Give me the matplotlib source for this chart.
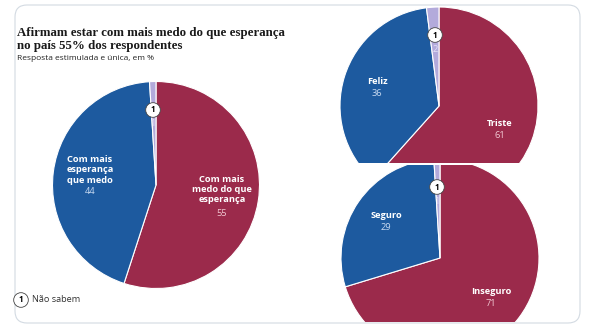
import matplotlib.pyplot as plt
from matplotlib.patches import FancyBboxPatch

# pesquisa: medo x esperança, humor e segurança (%)
medo_labels = ["Com mais\nmedo do que\nesperança", "Com mais\nesperança\nque medo", "Não sabem"]
medo_vals = [55, 44, 1]
humor_labels = ["Triste", "Feliz", "Não sabem"]
humor_vals = [61, 36, 2]
seg_labels = ["Inseguro", "Seguro", "Não sabem"]
seg_vals = [71, 29, 1]

RED = "#9b2a4b"
BLUE = "#1d5a9f"
LAV = "#b3aadb"
LIGHT_RED = "#f2c9d3"
LIGHT_BLUE = "#c9dbf2"
LIGHT_LAV = "#e4e0f4"

W, H = 594, 331
fig = plt.figure(figsize=(W / 100, H / 100), dpi=100)
fig.patch.set_facecolor("white")


def pie_ax(box, center, r, vals):
    # box em pixels (x0, y0, x1, y1), y de cima para baixo
    x0, y0, x1, y1 = box
    ax = fig.add_axes([x0 / W, 1 - y1 / H, (x1 - x0) / W, (y1 - y0) / H])
    wedges, _ = ax.pie(vals, colors=[RED, BLUE, LAV], startangle=90, counterclock=False,
                       wedgeprops=dict(linewidth=0.8, edgecolor="white"))
    for w in wedges:
        w.set_clip_on(True)
        w.set_clip_path(ax.patch)
    cx, cy = center
    ax.set_xlim((x0 - cx) / r, (x1 - cx) / r)
    ax.set_ylim((cy - y1) / r, (cy - y0) / r)
    ax.set_aspect("auto")
    ax.axis("off")
    return ax


pie_ax((16, 70, 300, 295), (156, 185), 103.5, medo_vals)
pie_ax((330, 0, 580, 163), (439, 106), 99, humor_vals)
pie_ax((330, 165, 580, 322), (440, 258), 99, seg_vals)

# camada de textos em coordenadas de pixel
ov = fig.add_axes([0, 0, 1, 1])
ov.set_xlim(0, W)
ov.set_ylim(H, 0)
ov.axis("off")
ov.patch.set_alpha(0)

ov.add_patch(FancyBboxPatch((15, 5), 565, 318, boxstyle="round,pad=0,rounding_size=12",
                            facecolor="none", edgecolor="#d3dae2", linewidth=0.8))

ov.text(17, 36, "Afirmam estar com mais medo do que esperança", fontsize=9.3,
        fontweight="bold", family="Liberation Serif", color="#1a1a1a")
ov.text(17, 48.5, "no país 55% dos respondentes", fontsize=9.3,
        fontweight="bold", family="Liberation Serif", color="#1a1a1a")
ov.text(17, 58, "Resposta estimulada e única, em %", fontsize=6.0,
        family="Open Sans", color="#222222", va="center")

lab = dict(family="Open Sans", fontweight="bold", color="white", fontsize=6.7,
           ha="center", va="center", linespacing=1.2)
num = dict(family="Open Sans", fontsize=6.7, ha="center", va="center")


def rotulo(x, y, label, val, cor, dy):
    ov.text(x, y, label, **lab)
    ov.text(x, y + dy, str(val), color=cor, **num)


rotulo(90, 170, medo_labels[1], medo_vals[1], LIGHT_BLUE, 22)
rotulo(222, 189.5, medo_labels[0], medo_vals[0], LIGHT_RED, 24.5)
rotulo(377, 81, humor_labels[1], humor_vals[1], LIGHT_BLUE, 13)
rotulo(500, 124, humor_labels[0], humor_vals[0], LIGHT_RED, 12)
rotulo(386, 216, seg_labels[1], seg_vals[1], LIGHT_BLUE, 12)
rotulo(491, 291, seg_labels[0], seg_vals[0], LIGHT_RED, 12)

circ = dict(boxstyle="circle,pad=0.35", facecolor="white", edgecolor="#444444", linewidth=0.6)


def marcador(x, y, val):
    ov.text(x, y, "1", family="Open Sans", fontweight="bold", fontsize=5.8,
            ha="center", va="center", color="black", bbox=circ)
    ov.text(x, y + 14, str(val), color=LIGHT_LAV, **num)


marcador(153, 110, medo_vals[2])
marcador(435, 35, humor_vals[2])
marcador(437, 187, seg_vals[2])

# legenda do marcador
ov.text(21, 300, "1", family="Open Sans", fontweight="bold", fontsize=5.8,
        ha="center", va="center", color="black", bbox=circ)
ov.text(32, 300, medo_labels[2], family="Open Sans", fontsize=6.6,
        color="#333333", va="center")

fig.savefig("out.png", dpi=100, facecolor="white")
